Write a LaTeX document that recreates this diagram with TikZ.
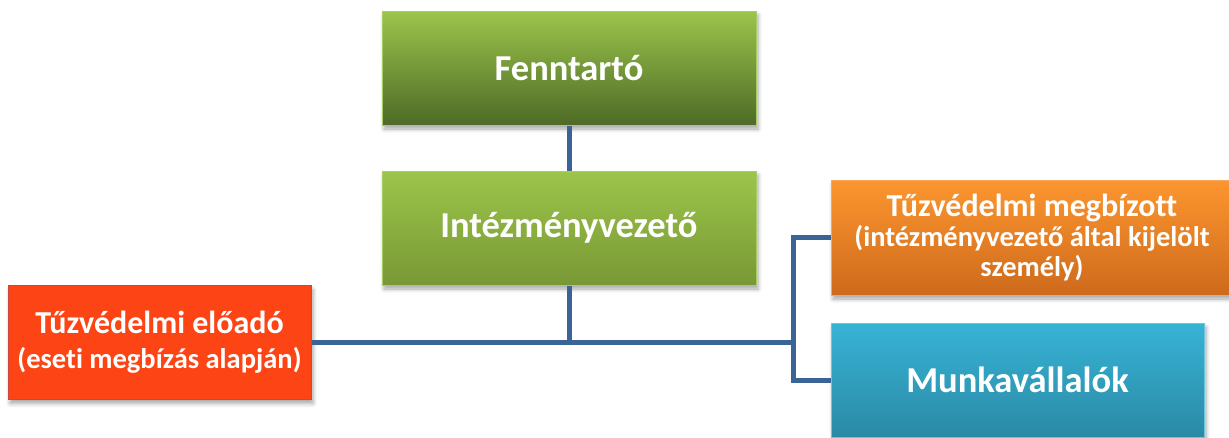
\documentclass[tikz,border=0pt]{standalone}
\usepackage{fontspec}
\setmainfont[Ligatures=NoCommon]{Carlito}
\usetikzlibrary{shadows.blur}
\definecolor{lgreen}{HTML}{9CC54B}
\definecolor{dgreen}{HTML}{4E6A27}
\definecolor{mgreen}{HTML}{789834}
\definecolor{gborder}{HTML}{A8CC66}
\definecolor{otop}{HTML}{FD962F}
\definecolor{obot}{HTML}{CD6A1C}
\definecolor{oborder}{HTML}{F5A760}
\definecolor{ctop}{HTML}{37B3D6}
\definecolor{cbot}{HTML}{2A8AA5}
\definecolor{cborder}{HTML}{6CC6E0}
\definecolor{redfill}{HTML}{FD4414}
\definecolor{redborder}{HTML}{C9483A}
\definecolor{linkc}{HTML}{3B6496}
\newcommand{\lineA}{\fontsize{32}{35}\selectfont}
\newcommand{\lineB}{\fontsize{28.5}{35}\selectfont}
\newcommand{\lineC}{\fontsize{28.5}{30}\selectfont}
\tikzset{
  orgbox/.style={rectangle, line width=1pt, text=white, align=center, inner sep=0pt,
    font=\bfseries,
    blur shadow={shadow xshift=2pt, shadow yshift=-4pt, shadow blur steps=6, shadow opacity=35, shadow blur radius=4pt}},
  big/.style={font=\bfseries\fontsize{36.5}{40}\selectfont},
  link/.style={draw=linkc, line width=5pt}
}
\begin{document}
\begin{tikzpicture}[x=1pt,y=-1pt]
\useasboundingbox (0,0) rectangle (1229,437);
\begin{scope}
\clip (0,0) rectangle (1229,437);
\node[orgbox, big, draw=gborder, top color=lgreen, bottom color=dgreen,
  minimum width=374pt, minimum height=114pt] (f) at (569,68) {Fenntartó};
\node[orgbox, big, draw=gborder, top color=lgreen, bottom color=mgreen,
  minimum width=374pt, minimum height=114pt] (i) at (569,228) {Intézményvezető};
\node[orgbox, font=\bfseries\lineB, draw=redborder, fill=redfill,
  minimum width=303pt, minimum height=114pt] (e) at (159.5,342.5)
  {{\lineA Tűzvédelmi előadó}\\{\lineB (eseti megbízás alapján)}};
\node[orgbox, font=\bfseries\lineC, draw=oborder, top color=otop, bottom color=obot,
  minimum width=402pt, minimum height=115pt] (w) at (1032,237.5)
  {{\lineA Tűzvédelmi megbízott}\\{\lineC (intézményvezető által kijelölt}\\{\lineC személy)}};
\node[orgbox, big, draw=cborder, top color=ctop, bottom color=cbot,
  minimum width=373pt, minimum height=114pt] (m) at (1017.5,380) {Munkavállalók};
\end{scope}
\coordinate (jx) at (793,0);
\coordinate (jc) at (793,342.5);
\draw[link] (f.south) -- (i.north);
\draw[link] (i.south) -- (i.south |- e.east);
\draw[link] (e.east) -- (jc);
\draw[link] (w.west) -- (w.west -| jx) -- (m.west -| jx) -- (m.west);
\end{tikzpicture}
\end{document}
